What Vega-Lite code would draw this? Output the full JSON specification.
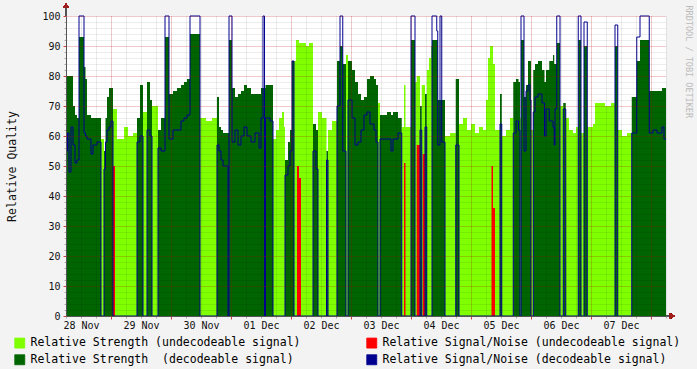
{
"$schema":"https://vega.github.io/schema/vega-lite/v6.json",
"width":600,"height":300,
"autosize":{"type":"none"},
"padding":{"left":66,"top":16,"right":31,"bottom":53},
"background":"#f3f3f3",
"view":{"fill":"white","stroke":null},
"config":{"font":"DejaVu Sans Mono","axis":{"labelFont":"DejaVu Sans Mono","titleFont":"DejaVu Sans Mono","labelColor":"#111","titleColor":"#111","titleFontWeight":"normal"},"legend":{"labelFont":"DejaVu Sans Mono"}},
"data":{"values":[
{"h":0,"g":0,"d":80,"r":0,"b":55},{"h":0.6,"g":0,"d":80,"r":0,"b":61},{"h":1.2,"g":0,"d":80,"r":0,"b":48},{"h":2.0,"g":0,"d":80,"r":0,"b":63},{"h":2.8,"g":0,"d":70,"r":0,"b":57},{"h":3.6,"g":0,"d":67,"r":0,"b":51},{"h":4.4,"g":0,"d":66,"r":0,"b":52},{"h":5.2,"g":0,"d":93,"r":0,"b":100},{"h":7.2,"g":0,"d":83,"r":0,"b":61},{"h":7.8,"g":0,"d":79,"r":0,"b":60},{"h":8.4,"g":0,"d":67,"r":0,"b":59},{"h":10.0,"g":0,"d":66,"r":0,"b":54},{"h":10.8,"g":0,"d":66,"r":0,"b":57},{"h":12.4,"g":0,"d":66,"r":0,"b":58},
{"h":14.0,"g":59,"d":0,"r":0,"b":0},{"h":15.2,"g":0,"d":55,"r":0,"b":49},{"h":15.8,"g":0,"d":66,"r":0,"b":58},{"h":16.4,"g":0,"d":73,"r":0,"b":62},{"h":17.2,"g":0,"d":76,"r":0,"b":63},{"h":18.0,"g":0,"d":76,"r":0,"b":65},
{"h":18.8,"g":69,"d":0,"r":50,"b":0},{"h":19.6,"g":69,"d":0,"r":0,"b":0},{"h":20.4,"g":59,"d":0,"r":0,"b":0},{"h":23.2,"g":63,"d":0,"r":0,"b":0},{"h":24.8,"g":60,"d":0,"r":0,"b":0},{"h":26.8,"g":61,"d":0,"r":0,"b":0},
{"h":28.4,"g":0,"d":66,"r":0,"b":58},{"h":29.6,"g":0,"d":77,"r":0,"b":60},{"h":30.8,"g":68,"d":0,"r":0,"b":0},{"h":32.4,"g":0,"d":78,"r":0,"b":62},{"h":33.6,"g":0,"d":72,"r":0,"b":60},{"h":34.4,"g":70,"d":0,"r":0,"b":0},
{"h":36.8,"g":0,"d":62,"r":0,"b":56},{"h":38.0,"g":0,"d":66,"r":0,"b":55},{"h":39.6,"g":0,"d":93,"r":0,"b":100},{"h":41.2,"g":0,"d":74,"r":0,"b":59},{"h":42.8,"g":0,"d":75,"r":0,"b":62},{"h":44.4,"g":0,"d":76,"r":0,"b":62},{"h":46.0,"g":0,"d":77,"r":0,"b":65},{"h":47.2,"g":0,"d":78,"r":0,"b":66},{"h":48.4,"g":0,"d":79,"r":0,"b":67},{"h":49.6,"g":0,"d":94,"r":0,"b":100},
{"h":53.6,"g":66,"d":0,"r":0,"b":0},{"h":56.0,"g":65,"d":0,"r":0,"b":0},{"h":58.4,"g":66,"d":0,"r":0,"b":0},
{"h":60.4,"g":0,"d":73,"r":0,"b":57},{"h":61.2,"g":0,"d":63,"r":0,"b":55},{"h":62.0,"g":0,"d":62,"r":0,"b":52},{"h":62.8,"g":0,"d":61,"r":0,"b":50},{"h":64.8,"g":0,"d":61,"r":0,"b":0},{"h":65.2,"g":0,"d":92,"r":0,"b":100},{"h":66.4,"g":0,"d":76,"r":0,"b":58},{"h":67.6,"g":0,"d":73,"r":0,"b":62},{"h":68.8,"g":0,"d":74,"r":0,"b":57},{"h":70.0,"g":0,"d":75,"r":0,"b":60},{"h":71.2,"g":0,"d":77,"r":0,"b":63},{"h":72.4,"g":0,"d":76,"r":0,"b":60},{"h":74.0,"g":0,"d":74,"r":0,"b":58},{"h":75.6,"g":0,"d":74,"r":0,"b":61},{"h":77.2,"g":0,"d":74,"r":0,"b":56},{"h":78.0,"g":0,"d":76,"r":0,"b":66},{"h":78.8,"g":0,"d":76,"r":0,"b":100},{"h":79.4,"g":0,"d":76,"r":0,"b":0},{"h":79.8,"g":0,"d":77,"r":0,"b":66},{"h":81.6,"g":0,"d":77,"r":0,"b":65},
{"h":82.8,"g":59,"d":0,"r":0,"b":0},{"h":84.0,"g":62,"d":0,"r":0,"b":0},{"h":85.2,"g":66,"d":0,"r":0,"b":0},{"h":86.4,"g":68,"d":0,"r":0,"b":0},{"h":87.2,"g":63,"d":0,"r":0,"b":0},
{"h":87.6,"g":0,"d":52,"r":0,"b":47},{"h":88.8,"g":0,"d":58,"r":0,"b":50},{"h":89.6,"g":0,"d":62,"r":0,"b":55},{"h":90.4,"g":0,"d":85,"r":0,"b":85},
{"h":91.2,"g":85,"d":0,"r":0,"b":0},{"h":92.0,"g":92,"d":0,"r":0,"b":0},{"h":92.4,"g":92,"d":0,"r":50,"b":0},{"h":93.2,"g":91,"d":0,"r":46,"b":0},{"h":94.0,"g":91,"d":0,"r":0,"b":0},{"h":96.0,"g":90,"d":0,"r":0,"b":0},{"h":97.2,"g":91,"d":0,"r":0,"b":0},
{"h":98.8,"g":0,"d":64,"r":0,"b":55},{"h":100.0,"g":0,"d":62,"r":0,"b":49},{"h":100.8,"g":68,"d":0,"r":0,"b":0},{"h":102.4,"g":66,"d":0,"r":0,"b":0},{"h":104.2,"g":0,"d":55,"r":0,"b":52},{"h":104.8,"g":62,"d":0,"r":0,"b":0},{"h":106.4,"g":65,"d":0,"r":0,"b":0},
{"h":108.4,"g":0,"d":85,"r":0,"b":70},{"h":109.6,"g":0,"d":90,"r":0,"b":100},{"h":110.7,"g":0,"d":84,"r":0,"b":55},{"h":112.0,"g":87,"d":0,"r":0,"b":0},{"h":112.8,"g":0,"d":85,"r":0,"b":72},{"h":114.4,"g":0,"d":82,"r":0,"b":66},{"h":115.6,"g":0,"d":78,"r":0,"b":57},{"h":116.8,"g":0,"d":74,"r":0,"b":58},{"h":118.0,"g":0,"d":72,"r":0,"b":62},{"h":119.2,"g":0,"d":73,"r":0,"b":67},{"h":120.4,"g":0,"d":79,"r":0,"b":68},{"h":121.6,"g":0,"d":80,"r":0,"b":64},{"h":123.2,"g":0,"d":79,"r":0,"b":62},{"h":124.0,"g":0,"d":77,"r":0,"b":58},
{"h":124.8,"g":71,"d":0,"r":0,"b":0},{"h":125.6,"g":0,"d":67,"r":0,"b":59},{"h":128.4,"g":0,"d":68,"r":0,"b":59},{"h":130.0,"g":0,"d":67,"r":0,"b":55},{"h":130.8,"g":0,"d":68,"r":0,"b":59},{"h":132.8,"g":0,"d":66,"r":0,"b":61},
{"h":134.3,"g":63,"d":0,"r":0,"b":0},{"h":135.2,"g":77,"d":0,"r":51,"b":0},{"h":135.8,"g":63,"d":0,"r":0,"b":0},{"h":138.0,"g":0,"d":92,"r":0,"b":100},{"h":139.6,"g":78,"d":0,"r":0,"b":0},{"h":140.3,"g":80,"d":0,"r":57,"b":0},{"h":141.6,"g":0,"d":70,"r":0,"b":62},{"h":142.3,"g":77,"d":0,"r":0,"b":0},{"h":142.7,"g":77,"d":0,"r":54,"b":0},{"h":143.6,"g":0,"d":74,"r":0,"b":63},{"h":144.3,"g":82,"d":0,"r":0,"b":0},{"h":145.2,"g":86,"d":0,"r":0,"b":0},{"h":146.0,"g":90,"d":0,"r":0,"b":0},
{"h":146.4,"g":0,"d":92,"r":0,"b":100},{"h":148.3,"g":0,"d":92,"r":0,"b":95},{"h":148.7,"g":0,"d":72,"r":0,"b":57},{"h":149.6,"g":0,"d":72,"r":0,"b":100},{"h":150.3,"g":0,"d":72,"r":0,"b":58},
{"h":151.6,"g":60,"d":0,"r":0,"b":0},{"h":153.6,"g":61,"d":0,"r":0,"b":0},{"h":155.9,"g":0,"d":79,"r":0,"b":57},{"h":157.2,"g":64,"d":0,"r":0,"b":0},{"h":158.8,"g":66,"d":0,"r":0,"b":0},{"h":160.4,"g":62,"d":0,"r":0,"b":0},{"h":162.0,"g":64,"d":0,"r":0,"b":0},{"h":163.6,"g":61,"d":0,"r":0,"b":0},{"h":165.2,"g":63,"d":0,"r":0,"b":0},{"h":166.8,"g":62,"d":0,"r":0,"b":0},{"h":168.0,"g":72,"d":0,"r":0,"b":0},{"h":168.8,"g":86,"d":0,"r":0,"b":0},{"h":169.6,"g":90,"d":0,"r":0,"b":0},{"h":170.2,"g":90,"d":0,"r":50,"b":0},{"h":170.8,"g":84,"d":0,"r":36,"b":0},{"h":171.6,"g":62,"d":0,"r":0,"b":0},
{"h":173.6,"g":0,"d":74,"r":0,"b":64},{"h":174.3,"g":60,"d":0,"r":0,"b":0},{"h":176.0,"g":62,"d":0,"r":0,"b":0},{"h":177.6,"g":66,"d":0,"r":0,"b":0},
{"h":178.9,"g":0,"d":78,"r":0,"b":61},{"h":180.0,"g":0,"d":79,"r":0,"b":65},{"h":181.0,"g":0,"d":78,"r":0,"b":62},{"h":181.6,"g":66,"d":0,"r":0,"b":0},{"h":182.0,"g":0,"d":92,"r":0,"b":100},{"h":183.2,"g":0,"d":73,"r":0,"b":55},{"h":184.0,"g":0,"d":77,"r":0,"b":75},{"h":184.8,"g":0,"d":85,"r":0,"b":77},{"h":185.6,"g":0,"d":85,"r":0,"b":72},{"h":186.0,"g":62,"d":0,"r":0,"b":0},
{"h":186.9,"g":0,"d":82,"r":0,"b":68},{"h":187.6,"g":0,"d":84,"r":0,"b":73},{"h":188.8,"g":0,"d":85,"r":0,"b":74},{"h":190.4,"g":0,"d":82,"r":0,"b":71},{"h":191.4,"g":0,"d":78,"r":0,"b":60},{"h":192.0,"g":0,"d":82,"r":0,"b":69},{"h":193.3,"g":0,"d":85,"r":0,"b":65},{"h":194.8,"g":0,"d":87,"r":0,"b":63},{"h":195.3,"g":0,"d":84,"r":0,"b":57},{"h":195.6,"g":0,"d":84,"r":0,"b":69},{"h":196.3,"g":0,"d":91,"r":0,"b":100},
{"h":197.6,"g":70,"d":0,"r":0,"b":0},{"h":198.9,"g":0,"d":71,"r":0,"b":69},{"h":199.9,"g":66,"d":0,"r":0,"b":0},{"h":201.2,"g":62,"d":0,"r":0,"b":0},{"h":202.8,"g":61,"d":0,"r":0,"b":0},{"h":204.0,"g":63,"d":0,"r":0,"b":0},{"h":204.9,"g":0,"d":92,"r":0,"b":100},{"h":206.0,"g":61,"d":0,"r":0,"b":0},{"h":207.2,"g":0,"d":90,"r":0,"b":98},
{"h":208.5,"g":63,"d":0,"r":0,"b":0},{"h":210.8,"g":64,"d":0,"r":0,"b":0},{"h":211.6,"g":71,"d":0,"r":0,"b":0},{"h":215.6,"g":70,"d":0,"r":0,"b":0},{"h":218.0,"g":71,"d":0,"r":0,"b":0},{"h":219.6,"g":0,"d":90,"r":0,"b":97},{"h":220.7,"g":62,"d":0,"r":0,"b":0},{"h":222.4,"g":60,"d":0,"r":0,"b":0},{"h":224.4,"g":61,"d":0,"r":0,"b":0},
{"h":226.3,"g":0,"d":73,"r":0,"b":61},{"h":228.3,"g":0,"d":85,"r":0,"b":93},{"h":229.6,"g":0,"d":92,"r":0,"b":100},{"h":233.3,"g":0,"d":75,"r":0,"b":61},{"h":234.8,"g":0,"d":75,"r":0,"b":62},{"h":236.4,"g":0,"d":75,"r":0,"b":61},{"h":238.4,"g":0,"d":76,"r":0,"b":63},{"h":239.2,"g":0,"d":76,"r":0,"b":59},{"h":240.0,"g":0,"d":76,"r":0,"b":59}
]},
"layer":[
{"mark":{"type":"area","interpolate":"step-after"},
 "encoding":{
  "x":{"field":"h","type":"quantitative","scale":{"domain":[0,240],"nice":false,"zero":false},
   "axis":{"orient":"bottom","zindex":1,"values":[0,6,12,18,24,30,36,42,48,54,60,66,72,78,84,90,96,102,108,114,120,126,132,138,144,150,156,162,168,174,180,186,192,198,204,210,216,222,228,234,240],"labels":false,"domain":false,"title":null,"grid":true,"gridColor":"#000","gridOpacity":0.16,"gridDash":[1,1],"ticks":true,"tickSize":2,"tickColor":"#aaa"}},
  "y":{"field":"g","type":"quantitative","scale":{"domain":[0,100],"nice":false},
   "axis":{"orient":"left","zindex":1,"values":[0,2,4,6,8,10,12,14,16,18,20,22,24,26,28,30,32,34,36,38,40,42,44,46,48,50,52,54,56,58,60,62,64,66,68,70,72,74,76,78,80,82,84,86,88,90,92,94,96,98,100],"labels":false,"domain":false,"title":null,"grid":true,"gridColor":"#000","gridOpacity":0.14,"gridDash":[1,1],"ticks":true,"tickSize":2,"tickColor":"#aaa"}},
  "color":{"datum":"Relative Strength (undecodeable signal)","type":"nominal",
   "scale":{"domain":["Relative Strength (undecodeable signal)","Relative Strength \u00a0(decodeable signal)","Relative Signal/Noise (undecodeable signal)","Relative Signal/Noise (decodeable signal)"],"range":["#7fff00","#006400","#ff0000","#000090"]},
   "legend":{"title":null,"orient":"none","legendX":-52,"legendY":321,"columns":2,"columnPadding":64,"rowPadding":3,"symbolType":"square","symbolSize":100,"labelFontSize":11.5,"labelColor":"#000","labelOffset":5,"labelLimit":0,
     "encode":{"symbols":{"update":{"stroke":{"value":"#000"},"strokeWidth":{"value":0.8}}}}}}
 }},
{"mark":{"type":"area","interpolate":"step-after"},
 "encoding":{
  "x":{"field":"h","type":"quantitative",
   "axis":{"orient":"bottom","zindex":1,"values":[18,42,66,90,114,138,162,186,210,234],"labels":false,"domain":false,"title":null,"grid":true,"gridColor":"#ff0000","gridOpacity":0.3,"gridDash":[1,1],"ticks":true,"tickSize":3,"tickColor":"#d04040"}},
  "y":{"field":"d","type":"quantitative",
   "axis":{"orient":"left","zindex":1,"values":[0,10,20,30,40,50,60,70,80,90,100],"grid":true,"gridColor":"#ff0000","gridOpacity":0.3,"gridDash":[1,1],"ticks":true,"tickSize":3,"tickColor":"#d04040","domain":true,"domainColor":"#555","labelFontSize":10,"labelPadding":3,"title":"Relative Quality","titleFontSize":11.5,"titlePadding":24}},
  "color":{"datum":"Relative Strength \u00a0(decodeable signal)","type":"nominal"}
 }},
{"mark":{"type":"area","interpolate":"step-after"},
 "encoding":{
  "x":{"field":"h","type":"quantitative",
   "axis":{"orient":"bottom","zindex":1,"values":[6,30,54,78,102,126,150,174,198,222],"labelExpr":"['28 Nov','29 Nov','30 Nov','01 Dec','02 Dec','03 Dec','04 Dec','05 Dec','06 Dec','07 Dec'][round((datum.value-6)/24)]","grid":false,"ticks":false,"domain":true,"domainColor":"#555","labelFontSize":10,"labelPadding":4,"title":null}},
  "y":{"field":"r","type":"quantitative",
   "axis":{"orient":"right","labels":false,"ticks":false,"grid":false,"domain":false,"values":[],"title":"RRDTOOL / TOBI OETIKER","titleAngle":90,"titleAlign":"left","titleBaseline":"middle","titleY":-11,"titleX":22,"titleFontSize":8.5,"titleColor":"#bbbbbb"}},
  "color":{"datum":"Relative Signal/Noise (undecodeable signal)","type":"nominal"}
 }},
{"mark":{"type":"line","interpolate":"step-after","strokeWidth":1},
 "encoding":{
  "x":{"field":"h","type":"quantitative","axis":null},
  "y":{"field":"b","type":"quantitative","axis":null},
  "color":{"datum":"Relative Signal/Noise (decodeable signal)","type":"nominal"}
 }},
{"mark":{"type":"rule","color":"#555"},
 "encoding":{"x":{"datum":0,"type":"quantitative","axis":null},"y":{"datum":100,"type":"quantitative","axis":null},"y2":{"datum":103.5}}},
{"mark":{"type":"point","shape":"triangle-up","filled":true,"color":"#a02020","size":30,"opacity":1},
 "encoding":{"x":{"datum":0,"type":"quantitative","axis":null},"y":{"datum":103.5,"type":"quantitative","axis":null}}},
{"mark":{"type":"rule","color":"#555"},
 "encoding":{"x":{"datum":240,"type":"quantitative","axis":null},"x2":{"datum":242},"y":{"datum":0,"type":"quantitative","axis":null}}},
{"mark":{"type":"point","shape":"triangle-right","filled":true,"color":"#a02020","size":30,"opacity":1},
 "encoding":{"x":{"datum":242.5,"type":"quantitative","axis":null},"y":{"datum":0,"type":"quantitative","axis":null}}}
],
"resolve":{"axis":{"x":"independent","y":"independent"}}
}
